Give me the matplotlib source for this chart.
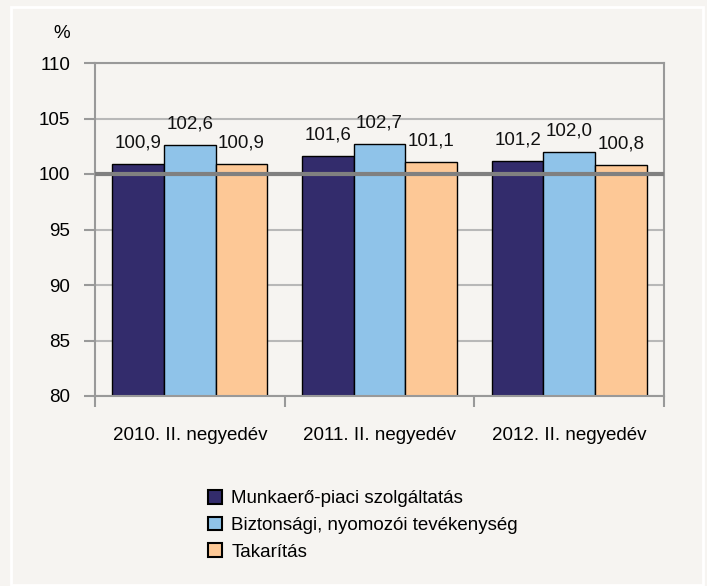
import matplotlib
matplotlib.use("Agg")
import matplotlib.pyplot as plt
import numpy as np
from matplotlib.patches import Rectangle

categories = ["2010. II. negyedév", "2011. II. negyedév", "2012. II. negyedév"]
series_names = ["Munkaerő-piaci szolgáltatás", "Biztonsági, nyomozói tevékenység", "Takarítás"]
munkaero = [100.9, 101.6, 101.2]
biztonsagi = [102.6, 102.7, 102.0]
takaritas = [100.9, 101.1, 100.8]
colors = ["#332c6c", "#8fc3e9", "#fdc896"]

plt.rcParams['font.family'] = ['Liberation Sans', 'DejaVu Sans']
FS = 13.5
bg = "#f6f4f1"

fig = plt.figure(figsize=(7.07, 5.86), dpi=100, facecolor=bg)
ax = fig.add_axes([95/707, 1-396/586, (664-95)/707, (396-63)/586])
ax.set_facecolor(bg)

# white inner border
fig.patches.append(Rectangle((11/707, 1/586), (703-11)/707, (579-1)/586, transform=fig.transFigure,
                             fill=False, edgecolor="white", linewidth=2, zorder=0))

x = np.arange(len(categories))
w = 0.272
all_series = [munkaero, biztonsagi, takaritas]
for i, (vals, name, c) in enumerate(zip(all_series, series_names, colors)):
    pos = x + (i - 1) * w
    ax.bar(pos, np.array(vals) - 80, bottom=80, width=w, color=c, edgecolor="black",
           linewidth=1.0, label=name, zorder=2)
    for px, v in zip(pos, vals):
        ax.annotate(f"{v:.1f}".replace(".", ","), (px, v), xytext=(0, 12), textcoords="offset points",
                    ha="center", va="baseline", fontsize=FS, color="#111111", zorder=4)

ax.set_ylim(80, 110)
ax.set_xlim(-0.5, 2.5)
ax.set_yticks(np.arange(80, 111, 5))
ax.set_yticklabels([str(v) for v in range(80, 111, 5)], fontsize=FS)
ax.yaxis.grid(True, color="#b8b8b8", linewidth=1.5, zorder=0)
ax.set_axisbelow(True)
ax.axhline(100, color="#808080", linewidth=3, zorder=3)

ax.set_xticks(x)
ax.set_xticklabels(categories, fontsize=FS)
ax.set_xticks([-0.5, 0.5, 1.5, 2.5], minor=True)
ax.tick_params(axis="x", which="major", length=0, pad=22)
ax.tick_params(axis="x", which="minor", length=8, width=1.5, color="#999999")
ax.tick_params(axis="y", length=8, width=1.5, color="#999999", pad=10)

for s in ax.spines.values():
    s.set_color("#999999")
    s.set_linewidth(1.5)

fig.text(62/707, 1-33/586, "%", ha="center", va="center", fontsize=FS)

leg = fig.legend(loc="upper left", bbox_to_anchor=(191/707, 1-473/586), frameon=False,
                 fontsize=FS, handlelength=0.75, handleheight=0.75, handletextpad=0.5,
                 labelspacing=0.5)
for h in leg.legend_handles:
    h.set_linewidth(1.5)

fig.savefig("out.png", dpi=100, facecolor=bg)
